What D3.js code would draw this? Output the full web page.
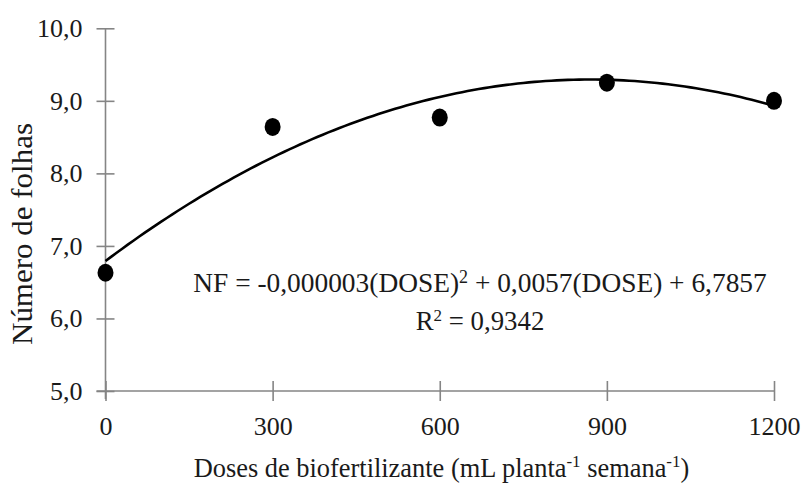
<!DOCTYPE html>
<html>
<head>
<meta charset="utf-8">
<script src="https://cdn.jsdelivr.net/npm/d3@7/dist/d3.min.js"></script>
<style>
  html, body { margin: 0; padding: 0; background: #fff; }
  svg { display: block; }
</style>
</head>
<body>
<svg id="chart" width="805" height="486"></svg>
<script>
// ---- data ----
const doses = [0, 300, 600, 900, 1200];
const folhas = [6.63, 8.64, 8.77, 9.25, 9.00];
const xTicks = [0, 300, 600, 900, 1200];
const yTicks = [5, 6, 7, 8, 9, 10];
const equationText = "NF = -0,000003(DOSE)";
const equationText2 = " + 0,0057(DOSE) + 6,7857";
const r2Text = " = 0,9342";

const FONT = "'Liberation Serif', 'Times New Roman', serif";
const TEXT = "#1a1a1a";

const svg = d3.select("#chart");
const x = d3.scaleLinear().domain([0, 1200]).range([105.5, 774]);
const y = d3.scaleLinear().domain([5, 10]).range([391, 28.3]);

const fmt = v => d3.format(".1f")(v).replace(".", ",");
const axisColor = "#858585";

const yAxis = svg.append("g").attr("transform", `translate(${x(0)},0)`)
  .call(d3.axisLeft(y).tickValues(yTicks).tickSize(9).tickPadding(14).tickFormat(fmt));
yAxis.select(".domain").attr("d", `M0,${y(10)}V${y(5) + 8}`);
yAxis.selectAll(".tick line").attr("x1", -9).attr("x2", 9);

const xAxis = svg.append("g").attr("transform", `translate(0,${y(5)})`)
  .call(d3.axisBottom(x).tickValues(xTicks).tickSize(10).tickPadding(16).tickFormat(d3.format("d")));
xAxis.select(".domain").attr("d", `M${x(0) - 9},0H${x(1200)}`);
xAxis.selectAll(".tick line").attr("y1", -10).attr("y2", 10);

svg.selectAll("g").attr("font-family", FONT);
svg.selectAll(".domain, .tick line").attr("stroke", axisColor).attr("stroke-width", 1.6);
svg.selectAll(".tick text").style("font-family", FONT).attr("font-size", 26).attr("fill", TEXT);

// quadratic least-squares trendline fitted from the data
function quadFit(xs, ys) {
  const n = xs.length;
  let S = [0,0,0,0,0], T = [0,0,0];
  for (let i = 0; i < n; i++) {
    let p = 1;
    for (let k = 0; k < 5; k++) { S[k] += p; if (k < 3) T[k] += p * ys[i]; p *= xs[i]; }
  }
  const A = [[S[0],S[1],S[2],T[0]],[S[1],S[2],S[3],T[1]],[S[2],S[3],S[4],T[2]]];
  for (let c = 0; c < 3; c++) for (let r = c + 1; r < 3; r++) {
    const f = A[r][c] / A[c][c];
    for (let k = c; k < 4; k++) A[r][k] -= f * A[c][k];
  }
  const coef = [0,0,0];
  for (let r = 2; r >= 0; r--) {
    let s = A[r][3];
    for (let k = r + 1; k < 3; k++) s -= A[r][k] * coef[k];
    coef[r] = s / A[r][r];
  }
  return coef;
}
const c = quadFit(doses, folhas);
svg.append("path")
  .datum(d3.range(0, 1200.01, 10))
  .attr("fill", "none").attr("stroke", "#000").attr("stroke-width", 2.6)
  .attr("d", d3.line().x(d => x(d)).y(d => y(c[0] + c[1] * d + c[2] * d * d)));

svg.selectAll("ellipse.pt").data(doses).join("ellipse")
  .attr("class", "pt")
  .attr("cx", d => x(d)).attr("cy", (d, i) => y(folhas[i]))
  .attr("rx", 8).attr("ry", 9).attr("fill", "#000");

const eq = svg.append("text").attr("x", 480).attr("y", 292).attr("text-anchor", "middle")
  .style("font-family", FONT).attr("font-size", 27.4).attr("fill", TEXT);
eq.append("tspan").text(equationText);
eq.append("tspan").attr("dy", -9).attr("font-size", 18).text("2");
eq.append("tspan").attr("dy", 9).text(equationText2);

const r2 = svg.append("text").attr("x", 480).attr("y", 330).attr("text-anchor", "middle")
  .style("font-family", FONT).attr("font-size", 26.8).attr("fill", TEXT);
r2.append("tspan").text("R");
r2.append("tspan").attr("dy", -9).attr("font-size", 17).text("2");
r2.append("tspan").attr("dy", 9).text(r2Text);

const xt = svg.append("text").attr("x", 441.5).attr("y", 477).attr("text-anchor", "middle")
  .style("font-family", FONT).attr("font-size", 26.4).attr("fill", TEXT);
xt.append("tspan").text("Doses de biofertilizante (mL planta");
xt.append("tspan").attr("dy", -10).attr("font-size", 17).text("-1");
xt.append("tspan").attr("dy", 10).text(" semana");
xt.append("tspan").attr("dy", -10).attr("font-size", 17).text("-1");
xt.append("tspan").attr("dy", 10).text(")");

svg.append("text").attr("transform", "translate(32,234) rotate(-90)")
  .style("font-family", FONT).attr("fill", TEXT)
  .attr("text-anchor", "middle").attr("font-size", 29)
  .attr("textLength", 222).attr("lengthAdjust", "spacingAndGlyphs")
  .text("Número de folhas");
</script>
</body>
</html>
